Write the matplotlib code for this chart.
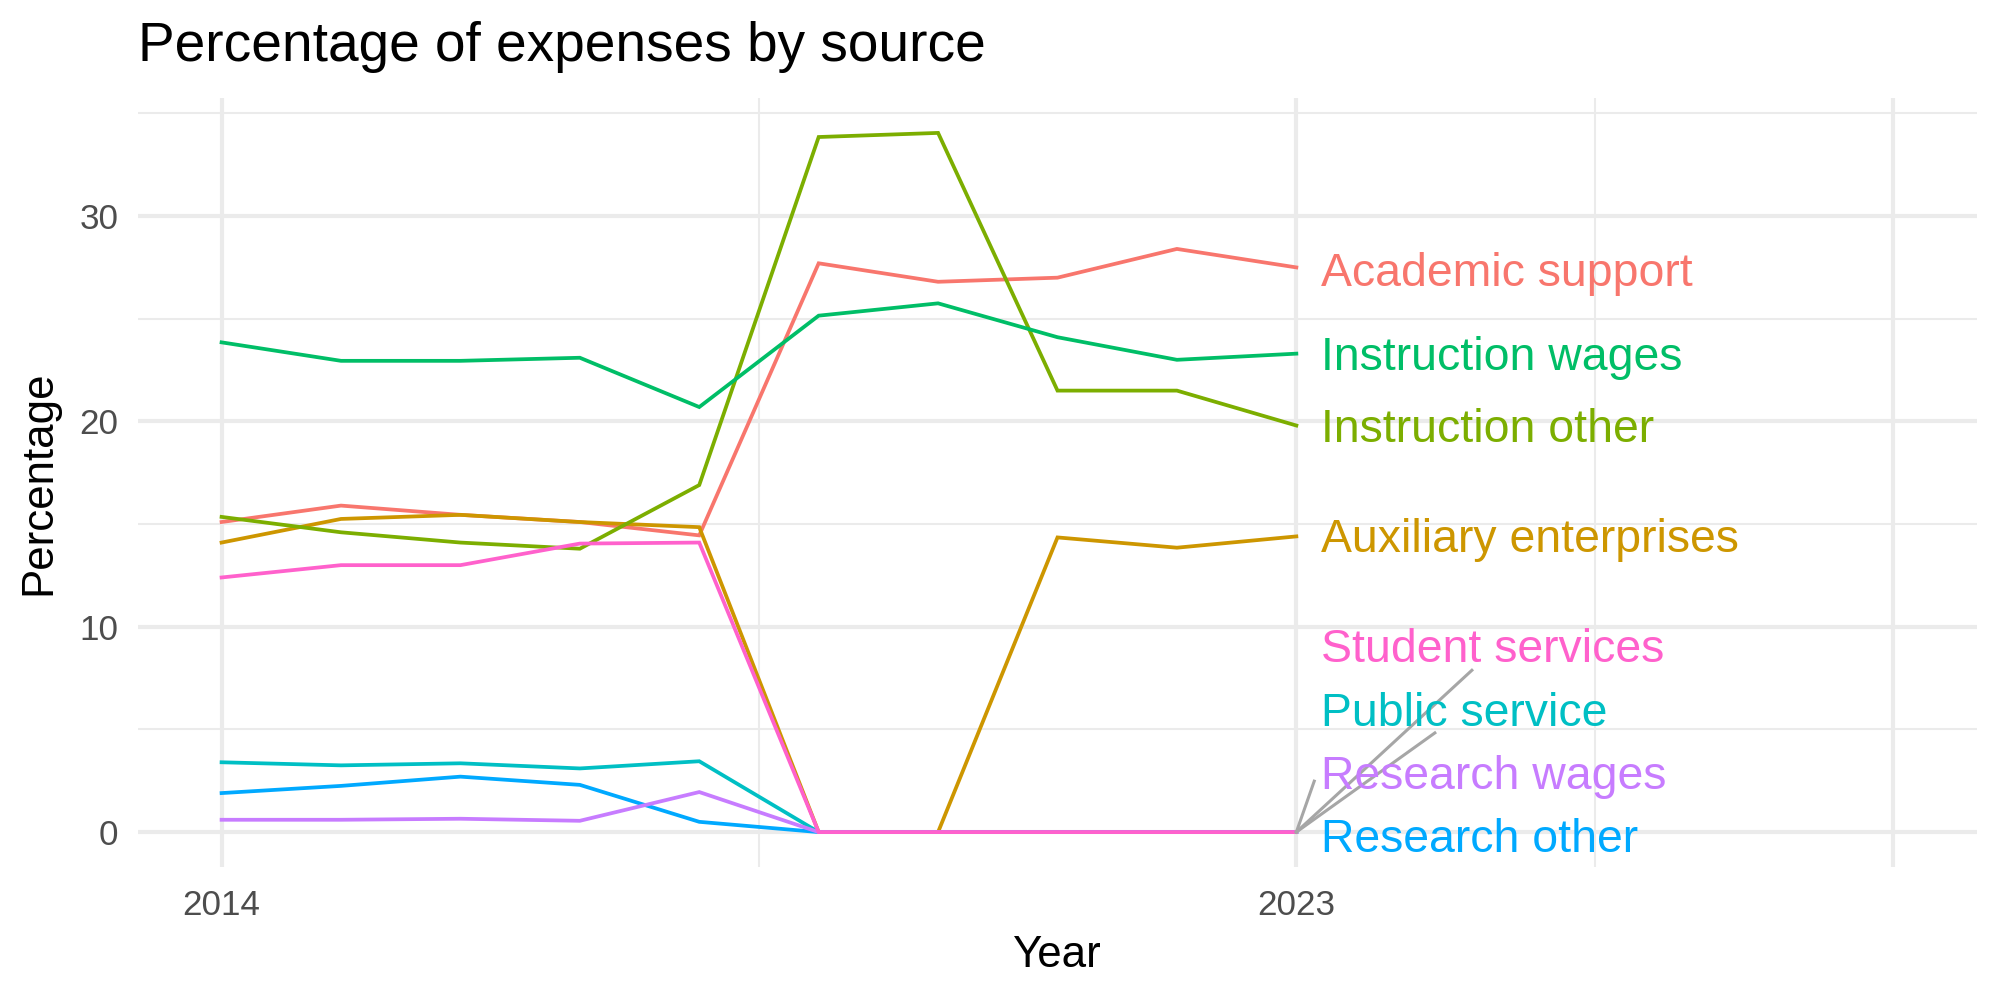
import numpy as np
import matplotlib.pyplot as plt

plt.rcParams['font.family'] = ['Liberation Sans', 'DejaVu Sans']

years = [2014, 2015, 2016, 2017, 2018, 2019, 2020, 2021, 2022, 2023]
sources = ['Academic support', 'Auxiliary enterprises', 'Instruction other', 'Instruction wages',
           'Public service', 'Research other', 'Research wages', 'Student services']
colors = ['#F8766D', '#CD9600', '#7CAE00', '#00BE67', '#00BFC4', '#00A9FF', '#C77CFF', '#FF61CC']

academic_support = [15.1, 15.9, 15.45, 15.1, 14.45, 27.7, 26.8, 27.0, 28.4, 27.5]
auxiliary_enterprises = [14.1, 15.25, 15.45, 15.1, 14.85, 0, 0, 14.35, 13.85, 14.4]
instruction_other = [15.35, 14.6, 14.1, 13.8, 16.9, 33.85, 34.05, 21.5, 21.5, 19.8]
instruction_wages = [23.85, 22.95, 22.95, 23.1, 20.7, 25.15, 25.75, 24.1, 23.0, 23.3]
public_service = [3.4, 3.25, 3.35, 3.1, 3.45, 0, 0, 0, 0, 0]
research_other = [1.9, 2.25, 2.7, 2.3, 0.5, 0, 0, 0, 0, 0]
research_wages = [0.6, 0.6, 0.65, 0.55, 1.95, 0, 0, 0, 0, 0]
student_services = [12.4, 13.0, 13.0, 14.05, 14.1, 0, 0, 0, 0, 0]

series = [academic_support, auxiliary_enterprises, instruction_other, instruction_wages,
          public_service, research_other, research_wages, student_services]

# repelled label positions (baseline) and leader segment ends
label_x = 2023.21
label_y = [26.6, 13.64, 19.02, 22.5, 5.16, -0.95, 2.11, 8.27]
segments = {'Student services': (2024.47, 7.88),
            'Public service': (2024.16, 4.83),
            'Research wages': (2023.15, 2.48)}

fig = plt.figure(figsize=(10, 5), dpi=200, facecolor='w')
ax = fig.add_axes([0.069, 0.133, 0.9195, 0.769])

for name, vals, col in zip(sources, series, colors):
    ax.plot(years, vals, color=col, lw=1.35, solid_joinstyle='miter', zorder=3)

for name, vals in zip(sources, series):
    if name in segments:
        ex, ey = segments[name]
        ax.plot([years[-1], ex], [vals[-1], ey], color='#A6A6A6', lw=1.1, zorder=4)

for name, ly, col in zip(sources, label_y, colors):
    ax.text(label_x, ly, name, color=col, fontsize=16.7, ha='left', va='baseline', zorder=5)

ax.set_xlim(2013.3, 2028.7)
ax.set_ylim(-1.7, 35.75)
ax.set_xticks([2014, 2023, 2028], labels=['2014', '2023', ''])
ax.set_xticks([2018.5, 2025.5], minor=True)
ax.set_yticks([0, 10, 20, 30])
ax.set_yticks([5, 15, 25, 35], minor=True)

ax.grid(which='major', color='#EBEBEB', lw=1.5)
ax.grid(which='minor', color='#EBEBEB', lw=0.75)
ax.set_axisbelow(True)
for s in ax.spines.values():
    s.set_visible(False)
ax.tick_params(which='both', length=0)
ax.tick_params(axis='x', labelsize=12.6, labelcolor='#4D4D4D', pad=8)
ax.tick_params(axis='y', labelsize=12.6, labelcolor='#4D4D4D', pad=7)

ax.set_title('Percentage of expenses by source', loc='left', fontsize=19.8, y=1.048, pad=0)
ax.set_xlabel('Year', fontsize=15.8, va='baseline')
ax.xaxis.set_label_coords(0.5, -0.130)
ax.set_ylabel('Percentage', fontsize=15.8, va='baseline', rotation_mode='anchor')
ax.yaxis.set_label_coords(-0.0479, 0.5)

plt.savefig('out.png', dpi=200)
